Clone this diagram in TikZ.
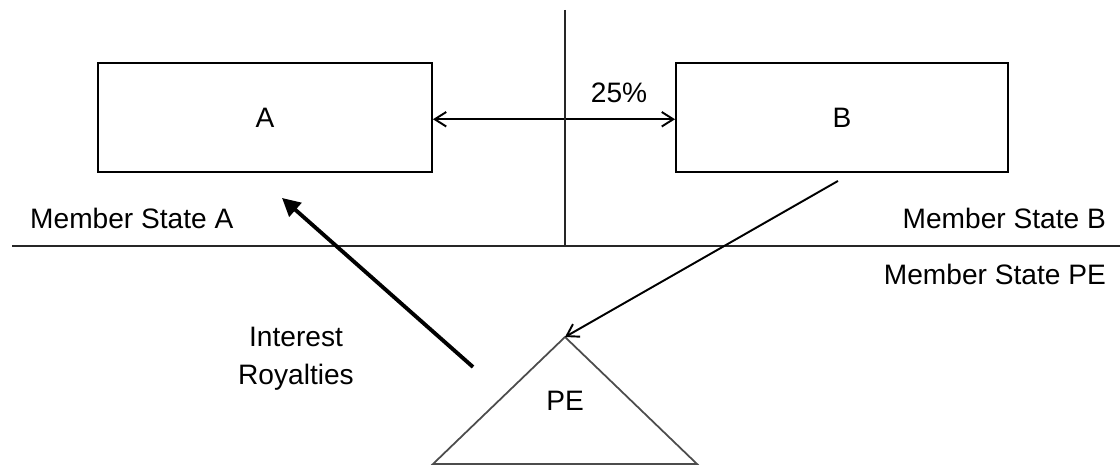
\documentclass[tikz,border=0pt]{standalone}
\usepackage{fontspec}
\setmainfont{Liberation Sans}
\usetikzlibrary{arrows.meta,positioning,calc}

\begin{document}
\begin{tikzpicture}[x=0.02cm, y=-0.02cm, font=\fontsize{16}{19}\selectfont,
  box/.style={draw, line width=1.1pt, minimum height=2.18cm},
  divider/.style={line width=1.2pt, black!85},
  barb/.tip={Straight Barb[length=2.3mm, width=2.9mm]},
  thin arrow/.style={line width=1.1pt, -barb},
  thick arrow/.style={line width=2.2pt, -{Triangle[length=3.6mm, width=3.6mm]}},
  tri/.style={line width=1pt, black!70, line join=miter}]
  \useasboundingbox (0,0) rectangle (1120,469);

  % the two companies
  \node[box, minimum width=6.68cm] (A) at (265,117.5) {A};
  \node[box, minimum width=6.64cm] (B) at (842,117.5) {B};
  \draw[line width=1.1pt, barb-barb] ([yshift=-1pt]A.east) -- ([yshift=-1pt]B.west);
  \node (pct) at (619,93) {25\%};

  % borders between the states
  \draw[divider] (565,10) -- (565,246);
  \draw[divider] (12,246) -- (1120,246);
  \node[anchor=west] (msa) at (24,218) {Member State A};
  \node[anchor=east] (msb) at (1112,218) {Member State B};
  \node[anchor=east] (mspe) at (1112,274) {Member State PE};

  % permanent establishment
  \draw[tri] (433,464) -- (565,337) coordinate (apex) -- (697,464) -- cycle;
  \node (PE) at (565,401) {PE};

  \coordinate (pay) at (473,367);
  \coordinate (recv) at ($(A.south)+(17,25)$);
  \draw[thick arrow] (pay) -- (recv);
  \draw[thin arrow] ($(B.south)+(-4,8)$) -- (apex);
  \node[align=center, font=\fontsize{16}{21.5}\selectfont] (flows) at (296,359) {Interest\\Royalties};
\end{tikzpicture}
\end{document}
